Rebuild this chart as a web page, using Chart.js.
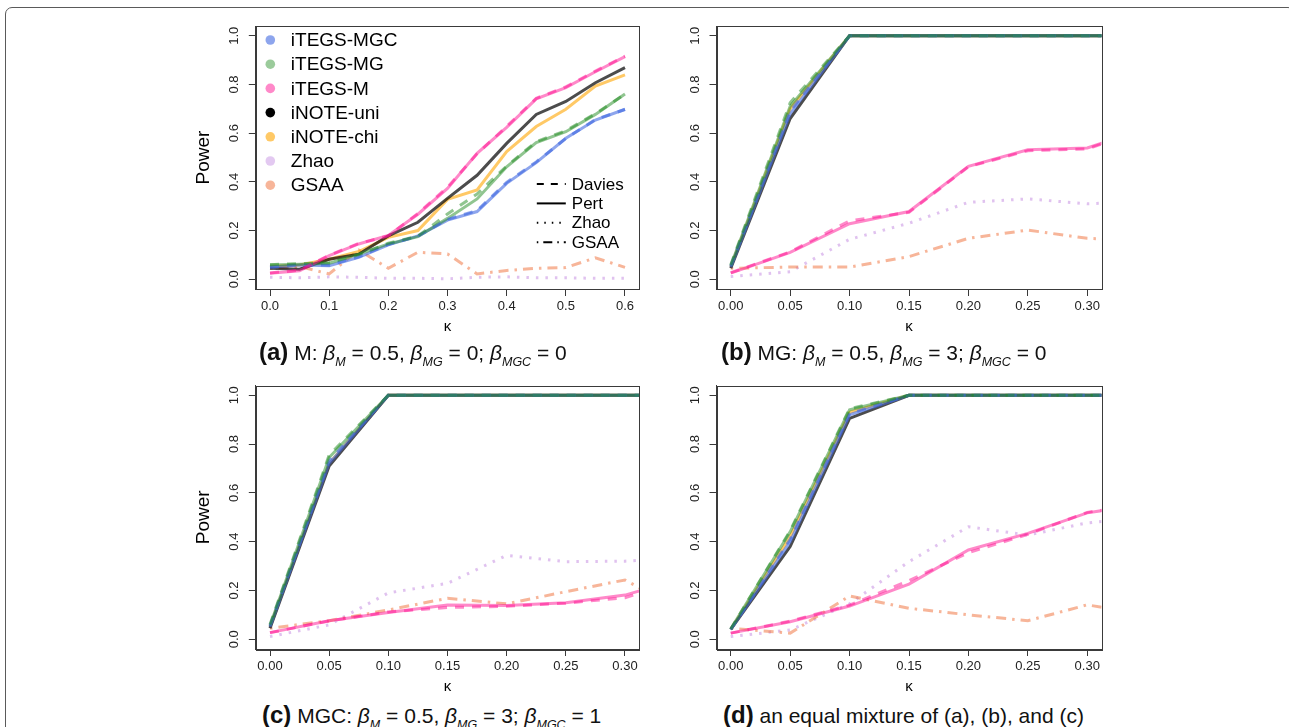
<!DOCTYPE html>
<html>
<head>
<meta charset="utf-8">
<script src="https://cdn.jsdelivr.net/npm/chart.js@4.4.1/dist/chart.umd.min.js"></script>
<style>
  html, body { margin: 0; padding: 0; background: #fff; }
  body { width: 1289px; height: 727px; position: relative; overflow: hidden;
         font-family: "Liberation Sans", Arial, Helvetica, sans-serif; }
  .frame { position: absolute; left: 5px; top: 7px; width: 1290px; height: 760px;
           border: 1.5px solid #5a5a5a; border-radius: 7px; box-sizing: border-box; }
  canvas { position: absolute; }
  .cap { position: absolute; font-size: 21px; color: #111; white-space: nowrap; line-height: 26px; }
  .cap b { font-size: 24px; }
  .cap i { font-style: italic; }
  .cap sub { font-style: italic; font-size: 12.5px; vertical-align: -6px; }
</style>
</head>
<body>
<div class="frame"></div>
<canvas id="chartA" width="460" height="330" style="left:185px;top:10px"></canvas>
<canvas id="chartB" width="460" height="330" style="left:646px;top:10px"></canvas>
<canvas id="chartC" width="460" height="330" style="left:185px;top:370px"></canvas>
<canvas id="chartD" width="460" height="330" style="left:646px;top:370px"></canvas>

<div class="cap" style="left:259px;top:339px"><b>(a)</b> M: <i>β</i><sub>M</sub> = 0.5, <i>β</i><sub>MG</sub> = 0; <i>β</i><sub>MGC</sub> = 0</div>
<div class="cap" style="left:721px;top:339px"><b>(b)</b> MG: <i>β</i><sub>M</sub> = 0.5, <i>β</i><sub>MG</sub> = 3; <i>β</i><sub>MGC</sub> = 0</div>
<div class="cap" style="left:262px;top:702px"><b>(c)</b> MGC: <i>β</i><sub>M</sub> = 0.5, <i>β</i><sub>MG</sub> = 3; <i>β</i><sub>MGC</sub> = 1</div>
<div class="cap" style="left:723px;top:702px"><b>(d)</b> an equal mixture of (a), (b), and (c)</div>

<script>
// κ grids and tick labels
const kappaA = [0, 0.05, 0.1, 0.15, 0.2, 0.25, 0.3, 0.35, 0.4, 0.45, 0.5, 0.55, 0.6];
const kappaBCD = [0, 0.05, 0.1, 0.15, 0.2, 0.25, 0.3, 0.35];
const xTicksA = [0, 0.1, 0.2, 0.3, 0.4, 0.5, 0.6];
const xTicksBCD = [0, 0.05, 0.1, 0.15, 0.2, 0.25, 0.3];
const yTicks = [0, 0.2, 0.4, 0.6, 0.8, 1.0];

// (a) M
const aMgcPert = [0.049, 0.059, 0.056, 0.090, 0.141, 0.178, 0.243, 0.278, 0.394, 0.479, 0.579, 0.654, 0.698];
const aMgcDav  = [0.050, 0.060, 0.058, 0.092, 0.143, 0.176, 0.246, 0.282, 0.398, 0.482, 0.578, 0.656, 0.697];
const aMgPert  = [0.059, 0.062, 0.066, 0.103, 0.145, 0.175, 0.250, 0.330, 0.462, 0.561, 0.606, 0.677, 0.761];
const aMgDav   = [0.060, 0.064, 0.068, 0.101, 0.148, 0.177, 0.268, 0.350, 0.465, 0.565, 0.610, 0.680, 0.760];
const aMPert   = [0.025, 0.035, 0.097, 0.145, 0.180, 0.267, 0.373, 0.517, 0.624, 0.741, 0.787, 0.852, 0.914];
const aMDav    = [0.026, 0.037, 0.099, 0.147, 0.178, 0.270, 0.378, 0.515, 0.628, 0.743, 0.790, 0.855, 0.916];
const aUni     = [0.045, 0.041, 0.082, 0.103, 0.178, 0.234, 0.332, 0.427, 0.558, 0.677, 0.730, 0.807, 0.869];
const aChi     = [0.052, 0.059, 0.082, 0.114, 0.172, 0.200, 0.328, 0.367, 0.524, 0.627, 0.698, 0.793, 0.839];
const aZhao    = [0.008, 0.006, 0.010, 0.008, 0.004, 0.004, 0.002, 0.008, 0.010, 0.006, 0.006, 0.004, 0.004];
const aGsaa    = [0.045, 0.052, 0.022, 0.120, 0.045, 0.111, 0.104, 0.022, 0.036, 0.045, 0.048, 0.088, 0.049];

// (b) MG
const bMgcPert = [0.050, 0.680, 1, 1, 1, 1, 1, 1];
const bMgcDav  = [0.055, 0.690, 1, 1, 1, 1, 1, 1];
const bMgPert  = [0.055, 0.710, 1, 1, 1, 1, 1, 1];
const bMgDav   = [0.060, 0.725, 1, 1, 1, 1, 1, 1];
const bMPert   = [0.025, 0.110, 0.228, 0.278, 0.464, 0.532, 0.539, 0.620];
const bMDav    = [0.027, 0.112, 0.240, 0.275, 0.462, 0.528, 0.535, 0.620];
const bUni     = [0.045, 0.660, 1, 1, 1, 1, 1, 1];
const bChi     = [0.050, 0.700, 1, 1, 1, 1, 1, 1];
const bZhao    = [0.011, 0.031, 0.164, 0.230, 0.316, 0.330, 0.310, 0.320];
const bGsaa    = [0.045, 0.050, 0.050, 0.093, 0.168, 0.202, 0.168, 0.160];

// (c) MGC
const cMgcPert = [0.050, 0.720, 1, 1, 1, 1, 1, 1];
const cMgcDav  = [0.055, 0.730, 1, 1, 1, 1, 1, 1];
const cMgPert  = [0.055, 0.745, 1, 1, 1, 1, 1, 1];
const cMgDav   = [0.060, 0.755, 1, 1, 1, 1, 1, 1];
const cMPert   = [0.027, 0.076, 0.110, 0.140, 0.138, 0.150, 0.181, 0.250];
const cMDav    = [0.027, 0.075, 0.112, 0.130, 0.135, 0.148, 0.170, 0.250];
const cUni     = [0.045, 0.710, 1, 1, 1, 1, 1, 1];
const cChi     = [0.050, 0.720, 1, 1, 1, 1, 1, 1];
const cZhao    = [0.011, 0.059, 0.190, 0.229, 0.344, 0.318, 0.320, 0.335];
const cGsaa    = [0.045, 0.076, 0.120, 0.168, 0.145, 0.195, 0.243, 0.110];

// (d) mixture
const dMgcPert = [0.040, 0.400, 0.920, 1, 1, 1, 1, 1];
const dMgcDav  = [0.040, 0.410, 0.925, 1, 1, 1, 1, 1];
const dMgPert  = [0.042, 0.440, 0.940, 1, 1, 1, 1, 1];
const dMgDav   = [0.042, 0.445, 0.945, 1, 1, 1, 1, 1];
const dMPert   = [0.025, 0.072, 0.136, 0.226, 0.366, 0.434, 0.518, 0.555];
const dMDav    = [0.025, 0.074, 0.140, 0.240, 0.355, 0.430, 0.520, 0.555];
const dUni     = [0.040, 0.380, 0.905, 1, 1, 1, 1, 1];
const dChi     = [0.040, 0.420, 0.930, 1, 1, 1, 1, 1];
const dZhao    = [0.011, 0.038, 0.145, 0.318, 0.461, 0.427, 0.477, 0.500];
const dGsaa    = [0.045, 0.025, 0.177, 0.127, 0.100, 0.076, 0.141, 0.100];

// 色と線種
const methodNames = ['iTEGS-MGC', 'iTEGS-MG', 'iTEGS-M', 'iNOTE-uni', 'iNOTE-chi', 'Zhao', 'GSAA'];
const methodColors = [
    'rgba(65,105,225,0.6)',
    'rgba(34,139,34,0.5)',
    'rgba(255,20,147,0.5)',
    'rgba(0,0,0,0.7)',
    'rgba(255,165,0,0.6)',
    'rgba(186,120,220,0.45)',
    'rgba(240,120,70,0.55)'
];
const dotColors = ['rgba(65,105,225,0.6)', 'rgba(34,139,34,0.45)', 'rgba(255,20,147,0.5)', '#000',
    'rgba(255,165,0,0.6)', 'rgba(186,120,220,0.4)', 'rgba(240,120,70,0.55)'];
const ltyNames = ['Davies', 'Pert', 'Zhao', 'GSAA'];
const DASH = [9, 8];
const DOT = [2.5, 7];
const DOTDASH = [2.5, 6, 10, 6];

function pts(xs, ys) {
    return xs.map((x, i) => ({ x: x, y: ys[i] }));
}

function makeDatasets(xs, s) {
    const ds = (vals, color, dash, order) => ({
        data: pts(xs, vals), borderColor: color, borderDash: dash,
        borderWidth: 3, pointRadius: 0, tension: 0, fill: false, clip: 0, order: order
    });
    // order: 小さいほど上に描画
    return [
        ds(s.zhao, methodColors[5], DOT, 10),
        ds(s.gsaa, methodColors[6], DOTDASH, 9),
        ds(s.chi, methodColors[4], [], 8),
        ds(s.uni, methodColors[3], [], 7),
        ds(s.mgcPert, methodColors[0], [], 6),
        ds(s.mgPert, methodColors[1], [], 5),
        ds(s.mPert, methodColors[2], [], 4),
        ds(s.mgcDav, methodColors[0], DASH, 3),
        ds(s.mgDav, methodColors[1], DASH, 2),
        ds(s.mDav, methodColors[2], DASH, 1)
    ];
}

// 枠線
const boxPlugin = {
    id: 'box',
    afterDatasetsDraw(chart) {
        const a = chart.chartArea;
        const ctx = chart.ctx;
        ctx.save();
        ctx.strokeStyle = '#3a3a3a';
        ctx.lineWidth = 1;
        ctx.strokeRect(Math.round(a.left) + 0.5, Math.round(a.top) + 0.5,
            Math.round(a.right - a.left), Math.round(a.bottom - a.top));
        ctx.restore();
    }
};

// パネル(a)の凡例
const legendPlugin = {
    id: 'rlegend',
    afterDraw(chart) {
        const ctx = chart.ctx;
        const a = chart.chartArea;
        ctx.save();
        ctx.font = '19px "Liberation Sans", Arial, sans-serif';
        ctx.textBaseline = 'middle';
        ctx.textAlign = 'left';
        methodNames.forEach((name, i) => {
            const y = a.top + 14 + i * 24.2;
            ctx.fillStyle = dotColors[i];
            ctx.beginPath();
            ctx.arc(a.left + 14.5, y, 4.8, 0, Math.PI * 2);
            ctx.fill();
            ctx.fillStyle = '#000';
            ctx.fillText(name, a.left + 35, y + 1);
        });
        const dashes = [[7, 7], [], [1.5, 6], [1.5, 5, 9, 5]];
        ctx.font = '17px "Liberation Sans", Arial, sans-serif';
        ltyNames.forEach((name, i) => {
            const y = a.top + 158 + i * 19.4;
            ctx.strokeStyle = '#000';
            ctx.lineWidth = 2;
            ctx.setLineDash(dashes[i]);
            ctx.beginPath();
            ctx.moveTo(a.left + 281, y);
            ctx.lineTo(a.left + 310, y);
            ctx.stroke();
            ctx.setLineDash([]);
            ctx.fillStyle = '#000';
            ctx.fillText(name, a.left + 316, y + 1);
        });
        ctx.restore();
    }
};

function makeChart(id, opts) {
    const plugins = [boxPlugin];
    if (opts.legend) plugins.push(legendPlugin);
    return new Chart(document.getElementById(id), {
        type: 'line',
        data: { datasets: makeDatasets(opts.xs, opts.series) },
        options: {
            responsive: false,
            animation: false,
            events: [],
            layout: { padding: { left: 0, top: opts.padTop, right: opts.padRight, bottom: 0 } },
            plugins: { legend: { display: false }, tooltip: { enabled: false } },
            scales: {
                x: {
                    type: 'linear',
                    min: opts.xMin,
                    max: opts.xMax,
                    afterBuildTicks: s => { s.ticks = opts.xTicks.map(v => ({ value: v })); },
                    afterFit: s => { s.height = 51; },
                    ticks: {
                        color: '#222', padding: 3, maxRotation: 0, autoSkip: false,
                        font: { size: 13, family: '"Liberation Sans", Arial, sans-serif' },
                        callback: v => Number(v).toFixed(opts.digits)
                    },
                    grid: { drawOnChartArea: false, tickLength: 7, color: '#3a3a3a' },
                    border: { color: '#3a3a3a' },
                    title: {
                        display: true, text: 'κ', color: '#000',
                        font: { size: 15, family: '"Liberation Sans", Arial, sans-serif' },
                        padding: { top: 0, bottom: 4 }
                    }
                },
                y: {
                    type: 'linear',
                    min: -0.04,
                    max: 1.04,
                    afterBuildTicks: s => { s.ticks = yTicks.map(v => ({ value: v })); },
                    afterFit: s => { s.width = opts.yWidth; },
                    ticks: {
                        color: '#222', padding: 5, minRotation: 90, maxRotation: 90,
                        crossAlign: 'center', autoSkip: false,
                        font: { size: 13, family: '"Liberation Sans", Arial, sans-serif' },
                        callback: v => Number(v).toFixed(1)
                    },
                    grid: { drawOnChartArea: false, tickLength: 7, color: '#3a3a3a' },
                    border: { color: '#3a3a3a' },
                    title: {
                        display: opts.power, text: 'Power', color: '#000',
                        font: { size: 19, family: '"Liberation Sans", Arial, sans-serif' },
                        padding: { top: 7, bottom: 0 }
                    }
                }
            }
        },
        plugins: plugins
    });
}

makeChart('chartA', {
    xs: kappaA, xTicks: xTicksA, xMin: -0.024, xMax: 0.624, digits: 1,
    yWidth: 70.8, padTop: 16, padRight: 5.8, power: true, legend: true,
    series: { mgcPert: aMgcPert, mgcDav: aMgcDav, mgPert: aMgPert, mgDav: aMgDav, mPert: aMPert, mDav: aMDav,
              uni: aUni, chi: aChi, zhao: aZhao, gsaa: aGsaa }
});
makeChart('chartB', {
    xs: kappaBCD, xTicks: xTicksBCD, xMin: -0.012, xMax: 0.312, digits: 2,
    yWidth: 70.5, padTop: 16, padRight: 4.5, power: false,
    series: { mgcPert: bMgcPert, mgcDav: bMgcDav, mgPert: bMgPert, mgDav: bMgDav, mPert: bMPert, mDav: bMDav,
              uni: bUni, chi: bChi, zhao: bZhao, gsaa: bGsaa }
});
makeChart('chartC', {
    xs: kappaBCD, xTicks: xTicksBCD, xMin: -0.012, xMax: 0.312, digits: 2,
    yWidth: 70.8, padTop: 15.5, padRight: 5.8, power: true,
    series: { mgcPert: cMgcPert, mgcDav: cMgcDav, mgPert: cMgPert, mgDav: cMgDav, mPert: cMPert, mDav: cMDav,
              uni: cUni, chi: cChi, zhao: cZhao, gsaa: cGsaa }
});
makeChart('chartD', {
    xs: kappaBCD, xTicks: xTicksBCD, xMin: -0.012, xMax: 0.312, digits: 2,
    yWidth: 70.5, padTop: 15.5, padRight: 4.5, power: false,
    series: { mgcPert: dMgcPert, mgcDav: dMgcDav, mgPert: dMgPert, mgDav: dMgDav, mPert: dMPert, mDav: dMDav,
              uni: dUni, chi: dChi, zhao: dZhao, gsaa: dGsaa }
});
</script>
</body>
</html>
